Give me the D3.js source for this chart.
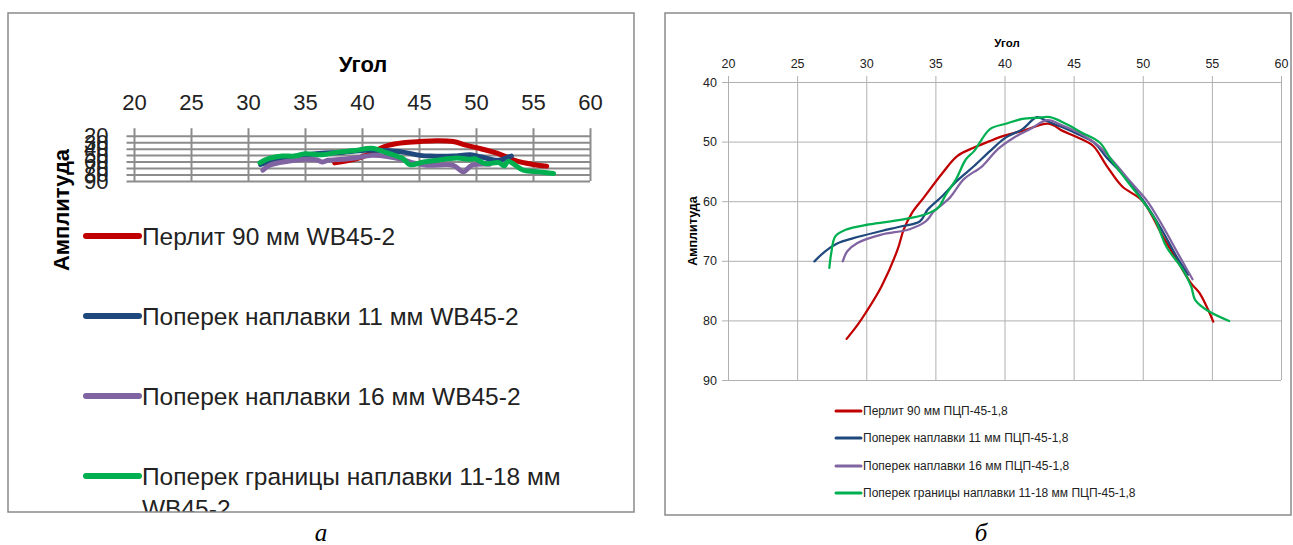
<!DOCTYPE html>
<html><head><meta charset="utf-8">
<script src="https://cdn.jsdelivr.net/npm/d3@7"></script>
<style>
html,body{margin:0;padding:0;background:#fff;}
svg{display:block;}
text{font-family:"Liberation Sans",Arial,sans-serif;}
</style></head>
<body>
<svg id="c" width="1293" height="545"></svg>
<script>
// ---------- DATA ----------
const xTicks = [20,25,30,35,40,45,50,55,60];
const yTicksA = [20,30,40,50,60,70,80,90];
const yTicksB = [40,50,60,70,80,90];
const seriesColors = ["#C00000","#1F497D","#8064A2","#00B050"];
const namesA = ["Перлит 90 мм WB45-2","Поперек наплавки 11 мм WB45-2","Поперек наплавки 16 мм WB45-2","Поперек границы наплавки 11-18 мм WB45-2"];
const namesB = ["Перлит 90 мм ПЦП-45-1,8","Поперек наплавки 11 мм ПЦП-45-1,8","Поперек наплавки 16 мм ПЦП-45-1,8","Поперек границы наплавки 11-18 мм ПЦП-45-1,8"];

// panel а (WB45-2): [angle, amplitude]
const redA = [[37.6,62],[39.4,56],[40.4,50],[41.3,42],[42.3,35],[43.6,31],[45.1,29],[46.6,27.8],[48,29],[49.2,35],[50.5,40.5],[52,48],[53.4,58],[54.9,64],[56.2,67]];
const blueA = [[31.1,64.5],[31.8,60],[33,55],[35,50],[36.5,47],[38,46],[40.3,42.5],[42,43],[43.6,45.4],[45.1,50.4],[46,51.5],[48,51.5],[49.5,49.5],[50.5,53],[52,58],[52.8,53],[53.1,51.5]];
const purpleA = [[31.3,73.3],[31.9,65.7],[33.5,59.6],[35,56.5],[36,57],[36.5,60.6],[37,58],[38.2,56.5],[39.4,54.5],[40.85,50.4],[42.2,52],[43.6,57],[44.5,62],[45.7,65.7],[48,65.7],[48.9,75.9],[49.6,66],[51.2,64]];
const greenA = [[31.05,61.7],[31.8,55.6],[33,51.5],[34.1,51.5],[35,48],[36.5,49.5],[37.9,45.4],[39.4,42.9],[40.85,39.3],[42.2,46.5],[43.6,55.6],[44.2,64.7],[45.4,60.6],[46.55,58],[48.3,54.5],[49.5,56.5],[49.9,55.6],[50.8,63.2],[52,61.7],[52.5,66.7],[52.8,59.6],[54.15,73.3],[55.5,75.9],[56.8,78.4]];

// panel б (ПЦП-45-1,8)
const redB = [[28.58,83.1],[29.36,80.8],[29.94,78.8],[31.1,74.3],[32.27,68.1],[32.7,64.8],[33.3,62],[34.16,59.4],[35.5,55.3],[36.6,52.4],[37.8,51],[38.95,49.9],[40,49],[41.3,48.2],[43.2,47],[44.2,48.2],[45.3,49.3],[46.4,50.7],[47.4,54.1],[48.5,57.5],[50,60],[51.45,65.9],[52.6,70.4],[53.5,73.8],[54.1,75.4],[55.1,80.2]];
const blueB = [[26.25,70.1],[27.03,68.4],[27.9,67.1],[29.07,66.2],[31.1,65],[32.56,64.2],[33.87,63.4],[34.45,61.4],[35.47,59.2],[36.6,56.5],[37.8,54.1],[38.95,51.6],[40.1,49.3],[41.3,47.9],[42.35,45.9],[43,46.5],[44.2,47.6],[45.35,48.8],[46.5,50.2],[47.4,52.7],[48.55,55.5],[50,59.8],[51.3,64.5],[52.5,69.5],[53.3,72.3]];
const purpleB = [[28.3,70.1],[28.63,68.4],[29.36,67],[31.1,65.6],[33.14,64.7],[34.3,63.4],[34.9,61.7],[36.05,59.4],[37.06,56.3],[38.4,54.1],[39.5,51.3],[40.7,49.3],[41.86,47.9],[43.1,46.4],[44.2,47.3],[45.6,48.8],[46.8,50.7],[47.97,53.6],[49.1,56.7],[50.3,59.9],[51.45,64.2],[52.6,69],[53.6,73.1]];
const greenB = [[27.33,71.2],[27.47,68.7],[27.76,65.9],[28.5,64.8],[30.2,63.9],[32.56,63.1],[34.3,62.2],[35.2,61.1],[35.76,58.9],[36.5,56.3],[37.2,53],[37.8,51.6],[38.95,47.9],[40.1,47],[41.3,46.2],[42.4,46],[43.3,45.9],[44.5,47.1],[45.6,48.5],[46.9,50.2],[47.7,53],[48.8,56.4],[50,60],[50.9,63.1],[51.7,67.6],[52.9,71.5],[53.5,74.3],[53.8,76.6],[54.65,78.3],[56.25,80.1]];

const seriesA = [redA, blueA, purpleA, greenA];
const seriesB = [redB, blueB, purpleB, greenB];

// ---------- DRAW ----------
const svg = d3.select("#c");
svg.append("rect").attr("width",1293).attr("height",545).attr("fill","#fff");
const defs = svg.append("defs");

function panel(cfg){
  const g = svg.append("g");
  defs.append("clipPath").attr("id",cfg.id+"clip").append("rect")
    .attr("x",cfg.box[0]).attr("y",cfg.box[1]).attr("width",cfg.box[2]-cfg.box[0]).attr("height",cfg.box[3]-cfg.box[1]);
  const inner = g.append("g").attr("clip-path","url(#"+cfg.id+"clip)");
  const x = d3.scaleLinear().domain([20,60]).range(cfg.xr);
  const y = d3.scaleLinear().domain(cfg.yd).range(cfg.yr);

  const ax = inner.append("g").attr("transform",`translate(0,${cfg.yr[1]})`)
    .call(d3.axisTop(x).tickValues(xTicks).tickSize(cfg.yr[1]-cfg.yr[0]+cfg.tickOut).tickPadding(cfg.xPad));
  ax.select(".domain").remove();
  ax.selectAll("line").attr("stroke",cfg.grid).attr("stroke-width",cfg.gridW);
  ax.selectAll("text").attr("fill","#222").style("font-size",cfg.tickFont+"px");

  const ay = inner.append("g").attr("transform",`translate(${cfg.xr[1]},0)`)
    .call(d3.axisLeft(y).tickValues(cfg.yTicks).tickSize(cfg.xr[1]-cfg.xr[0]+cfg.tickOut).tickPadding(cfg.yPad));
  ay.select(".domain").remove();
  ay.selectAll("line").attr("stroke",cfg.grid).attr("stroke-width",cfg.gridW);
  ay.selectAll("text").attr("fill","#222").style("font-size",cfg.tickFont+"px");

  inner.append("text").attr("x",cfg.xTitle[0]).attr("y",cfg.xTitle[1]).attr("text-anchor","middle")
    .style("font-weight","bold").style("font-size",cfg.titleFont+"px").text("Угол");
  inner.append("text").attr("transform",`translate(${cfg.yTitle[0]},${cfg.yTitle[1]}) rotate(-90)`).attr("text-anchor","middle")
    .style("font-weight","bold").style("font-size",cfg.yTitleFont+"px").text("Амплитуда");

  const line = d3.line().x(d=>x(d[0])).y(d=>y(d[1])).curve(d3.curveCatmullRom.alpha(0.5));
  cfg.series.forEach((s,i)=>{
    inner.append("path").datum(s).attr("d",line).attr("fill","none")
      .attr("stroke",seriesColors[i]).attr("stroke-width",cfg.lineW)
      .attr("stroke-linejoin","round").attr("stroke-linecap","round");
  });

  cfg.names.forEach((n,i)=>{
    const ly = cfg.leg.y[i];
    inner.append("line").attr("x1",cfg.leg.x0).attr("x2",cfg.leg.x1).attr("y1",ly).attr("y2",ly)
      .attr("stroke",seriesColors[i]).attr("stroke-width",cfg.leg.w).attr("stroke-linecap","round");
    const t = inner.append("text").attr("x",cfg.leg.tx).attr("y",ly).attr("dy","0.35em")
      .style("font-size",cfg.leg.font+"px").attr("fill","#222");
    if (cfg.leg.wrap && i===3){
      t.text("Поперек границы наплавки 11-18 мм");
      inner.append("text").attr("x",cfg.leg.tx).attr("y",ly+cfg.leg.lh).attr("dy","0.35em")
        .style("font-size",cfg.leg.font+"px").attr("fill","#222").text("WB45-2");
    } else t.text(n);
  });

  g.append("rect").attr("x",cfg.box[0]).attr("y",cfg.box[1]).attr("width",cfg.box[2]-cfg.box[0]).attr("height",cfg.box[3]-cfg.box[1])
    .attr("fill","none").attr("stroke","#8a8a8a").attr("stroke-width",1.5);
}

panel({id:"a", box:[8,13,634,512], xr:[134,590], yd:[20,90], yr:[135.7,181], yTicks:yTicksA,
  tickOut:7.5, xPad:18.5, yPad:18, grid:"#8c8c8c", gridW:2, tickFont:22,
  xTitle:[363,72], titleFont:22, yTitle:[69,210], yTitleFont:22, lineW:5, series:seriesA, names:namesA,
  leg:{x0:86,x1:139,tx:142,y:[236,316,396,476],w:6,font:24.5,wrap:true,lh:32}});

panel({id:"b", box:[665,13,1291,515], xr:[728,1281], yd:[40,90], yr:[82,380], yTicks:yTicksB,
  tickOut:6, xPad:8, yPad:5, grid:"#b0b0b0", gridW:1, tickFont:12.5,
  xTitle:[1007,47], titleFont:11.5, yTitle:[697,231], yTitleFont:12.5, lineW:2.25, series:seriesB, names:namesB,
  leg:{x0:836,x1:861,tx:863,y:[411,438,466,493],w:3,font:12,wrap:false}});

svg.append("text").attr("x",321).attr("y",541).attr("text-anchor","middle")
  .style("font-family","'Liberation Serif','Times New Roman',serif").style("font-style","italic").style("font-size","25px").text("а");
svg.append("text").attr("x",981).attr("y",541).attr("text-anchor","middle")
  .style("font-family","'Liberation Serif','Times New Roman',serif").style("font-style","italic").style("font-size","25px").text("б");
</script>
</body></html>
